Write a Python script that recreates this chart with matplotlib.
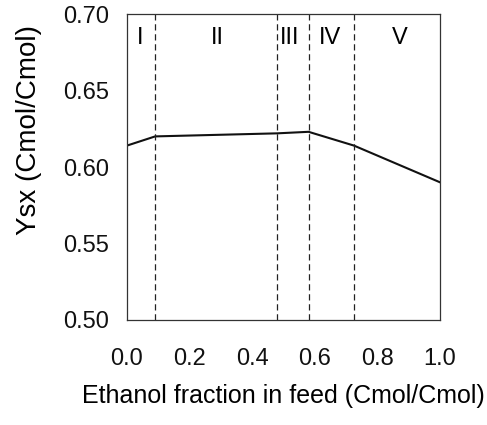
import matplotlib.pyplot as plt

plt.rcParams['font.family'] = ['Liberation Sans', 'DejaVu Sans']

# Ysx curve vs ethanol fraction
ethanol = [0.0, 0.09, 0.48, 0.58, 0.725, 1.0]
ysx = [0.614, 0.620, 0.622, 0.623, 0.614, 0.590]

# region boundaries and labels
bounds = [0.09, 0.48, 0.58, 0.725]
regions = ['I', 'II', 'III', 'IV', 'V']
region_x = [0.042, 0.29, 0.52, 0.65, 0.87]

fig = plt.figure(figsize=(4.87, 4.25), dpi=100)
ax = fig.add_axes([127 / 487, 1 - 320 / 425, 313 / 487, 306 / 425])

ax.plot(ethanol, ysx, color='#111111', lw=1.5)
for b in bounds:
    ax.axvline(b, color='#222222', lw=0.9, ls=(0, (5, 3)))
for lab, xx in zip(regions, region_x):
    ax.text(xx, 0.684, lab, ha='center', va='center', fontsize=17)

ax.set_xlim(0, 1)
ax.set_ylim(0.5, 0.7)
ax.set_xticks([0, 0.2, 0.4, 0.6, 0.8, 1.0])
ax.set_yticks([0.5, 0.55, 0.6, 0.65, 0.7])
ax.set_xticklabels(['0.0', '0.2', '0.4', '0.6', '0.8', '1.0'])
ax.set_yticklabels(['0.50', '0.55', '0.60', '0.65', '0.70'])
ax.tick_params(length=0, labelsize=17, colors='#111111')
ax.tick_params(axis='x', pad=20)
ax.tick_params(axis='y', pad=13)
for s in ax.spines.values():
    s.set_color('#333333')
    s.set_linewidth(0.9)

ax.set_xlabel('Ethanol fraction in feed (Cmol/Cmol)', fontsize=18, labelpad=10)
ax.set_ylabel('Ysx (Cmol/Cmol)', fontsize=20)
ax.yaxis.set_label_coords(-0.27, 0.62)

fig.savefig('out.png', dpi=100)
